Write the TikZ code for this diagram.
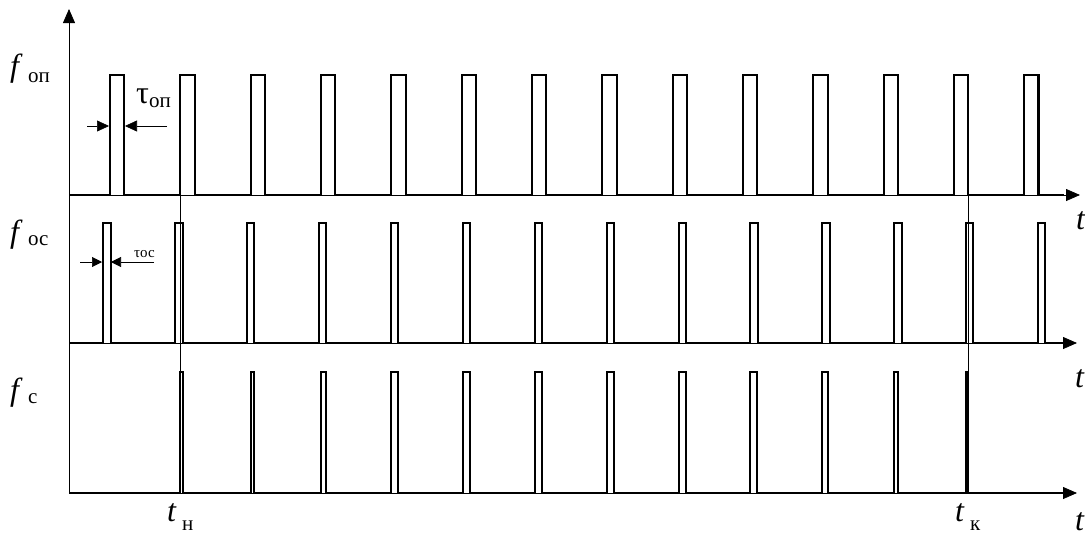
\documentclass[tikz,border=0pt]{standalone}
\usepackage{fontspec}
\setmainfont{Liberation Serif}
\usetikzlibrary{arrows.meta}

\newcommand{\bigfont}{\fontsize{32}{32}\selectfont}
\newcommand{\subfont}{\fontsize{21}{21}\selectfont}
\newcommand{\tinyfont}{\fontsize{15}{15}\selectfont}

\begin{document}
\begin{tikzpicture}[x=1pt, y=-1pt,
    axis/.style={line width=0.8pt, -{Triangle[length=14pt, width=12pt]}},
    wave/.style={line width=2pt, line join=miter},
    edgeline/.style={line width=0.6pt},
    dimarrow/.style={line width=0.6pt, -{Triangle[length=12pt, width=11pt]}},
    smallarrow/.style={line width=0.6pt, -{Triangle[length=10pt, width=10pt]}},
    lbl/.style={anchor=base west, inner sep=0pt, font=\bigfont}]
    \useasboundingbox (0,0) rectangle (1085,536);

    % axes
    \draw [axis] (69,493) -- (69,9);
    \draw [axis] (69,195) -- (1080,195);
    \draw [axis] (69,343) -- (1077,343);
    \draw [axis] (69,493) -- (1077,493);

    % start and end marks
    \draw [edgeline] (180.3,195) -- (180.3,372);
    \draw [edgeline] (968.2,195) -- (968.2,372);

    % reference pulses
    \draw [wave] (69,195) \foreach \i in {0,...,13} {
        -- ({110+70.33*\i},195) -- ++(0,-120) -- ++(14.2,0) -- ++(0,120)
    } -- (1064,195);

    % signal pulses
    \draw [wave] (69,343) \foreach \i in {0,...,13} {
        -- ({103.3+71.9*\i},343) -- ++(0,-120) -- ++(7.3,0) -- ++(0,120)
    } -- (1064,343);

    % coincidence pulses
    \draw [wave] (69,493) \foreach \i [evaluate=\i as \a using {max(110+70.33*\i,103.3+71.9*\i)},
                                     evaluate=\i as \b using {min(124.2+70.33*\i,110.6+71.9*\i)}] in {1,...,12} {
        -- (\a,493) -- (\a,372) -- (\b,372) -- (\b,493)
    } -- (1064,493);

    % pulse widths
    \draw [dimarrow] (87,126) -- (109,126);
    \draw [dimarrow] (167,126) -- (125,126);
    \draw [smallarrow] (80,262) -- (102,262);
    \draw [smallarrow] (154,262) -- (111,262);

    \node [lbl] (fop) at (10,76) {\textit{f}\,\raisebox{-6pt}{\subfont оп}};
    \node [lbl] (foc) at (10,242) {\textit{f}\,\raisebox{-3pt}{\subfont ос}};
    \node [lbl] (fc) at (10,400) {\textit{f}\,\raisebox{-3pt}{\subfont с}};
    \node [lbl] (tauop) at (136,103) {τ\raisebox{-4pt}{\subfont оп}};
    \node [lbl, font=\tinyfont] (tauoc) at (134,257) {τос};

    \node [lbl] (t1) at (1076,229) {\textit{t}};
    \node [lbl] (t2) at (1075,387) {\textit{t}};
    \node [lbl] (t3) at (1075,530) {\textit{t}};

    \node [lbl] (tn) at (167,521) {\textit{t}\,\raisebox{-9pt}{\subfont н}};
    \node [lbl] (tk) at (955,521) {\textit{t}\,\raisebox{-9pt}{\subfont к}};
\end{tikzpicture}
\end{document}
